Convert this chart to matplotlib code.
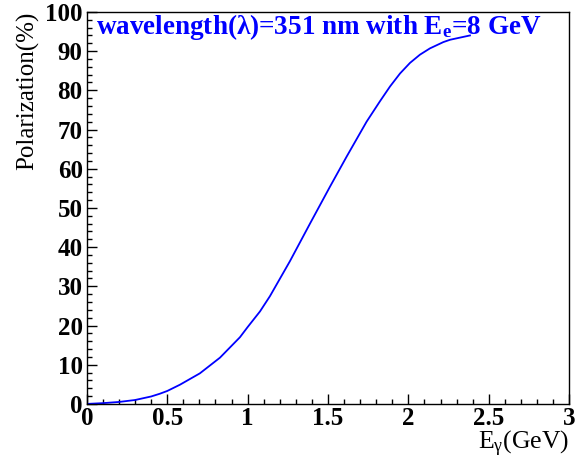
import numpy as np
import matplotlib
matplotlib.use("Agg")
import matplotlib.pyplot as plt
from matplotlib.ticker import MultipleLocator

plt.rcParams['font.family'] = ['Liberation Serif', 'DejaVu Serif']
plt.rcParams['mathtext.fontset'] = 'custom'
plt.rcParams['mathtext.rm'] = 'Liberation Serif'
plt.rcParams['mathtext.it'] = 'Liberation Serif:italic'
plt.rcParams['mathtext.bf'] = 'Liberation Serif:bold'

# photon energy (GeV) and polarization (%)
e_gamma = [0.0, 0.1, 0.2, 0.3, 0.4, 0.454, 0.5, 0.579, 0.703, 0.828, 0.952, 1.0,
           1.077, 1.139, 1.263, 1.388, 1.512, 1.616, 1.74, 1.823, 1.886, 1.948,
           2.01, 2.072, 2.134, 2.217, 2.259, 2.383]
polarization = [0.0, 0.2, 0.5, 1.0, 1.9, 2.6, 3.3, 4.9, 7.8, 11.8, 17.0, 19.6,
                23.6, 27.5, 36.4, 46.0, 55.4, 63.1, 72.0, 77.2, 81.0, 84.3,
                87.0, 89.1, 90.7, 92.3, 92.9, 94.0]

title_text = r'wavelength(λ)=351 nm with E$_{\mathbf{e}}$=8 GeV'

fig = plt.figure(figsize=(5.79, 4.59), dpi=100)
ax = fig.add_axes([0.150, 0.120, 0.833, 0.854])

ax.plot(e_gamma, polarization, color=(0, 0, 1), lw=1.3)

ax.set_xlim(0, 3)
ax.set_ylim(0, 100)
ax.xaxis.set_major_locator(MultipleLocator(0.5))
ax.xaxis.set_minor_locator(MultipleLocator(0.1))
ax.yaxis.set_major_locator(MultipleLocator(10))
ax.yaxis.set_minor_locator(MultipleLocator(2))
ax.tick_params(which='both', direction='in', top=False, right=False, width=1)
ax.tick_params(which='major', length=7)
ax.tick_params(which='minor', length=3.5)
ax.tick_params(axis='y', which='major', pad=3)
ax.tick_params(axis='x', which='major', pad=2)
ax.xaxis.set_major_formatter(plt.FuncFormatter(lambda v, p: f"{v:g}"))
for lab in ax.get_xticklabels() + ax.get_yticklabels():
    lab.set_fontsize(18)
    lab.set_fontweight('bold')
for s in ax.spines.values():
    s.set_linewidth(1)

ax.set_ylabel('Polarization(%)', fontsize=18, loc='top', labelpad=4)
ax.set_xlabel(r'E$_{\mathrm{γ}}$(GeV)', fontsize=18.5, loc='right', labelpad=-0.5)

ax.text(0.019, 0.944, title_text, transform=ax.transAxes, color=(0, 0, 1),
        fontsize=19.5, fontweight='bold', ha='left', va='baseline')

fig.savefig('out.png', dpi=100)
